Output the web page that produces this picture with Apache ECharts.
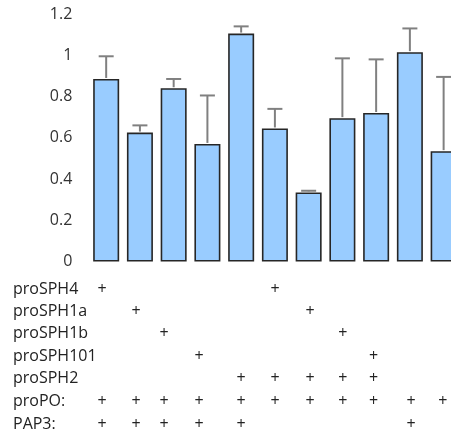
<!DOCTYPE html>
<html>
<head>
<meta charset="utf-8">
<script src="https://cdn.jsdelivr.net/npm/echarts@6/dist/echarts.min.js"></script>
<style>
html,body{margin:0;padding:0;background:#fff;}
#c{width:451px;height:433px;}
</style>
</head>
<body>
<div id="c"></div>
<script>
// ---- data ----
const categories = ['1','2','3','4','5','6','7','8','9','10','11'];
const means  = [0.885, 0.625, 0.84, 0.57, 1.105, 0.645, 0.335, 0.695, 0.72, 1.015, 0.535];
const errors = [0.11, 0.035, 0.045, 0.235, 0.035, 0.095, 0.008, 0.29, 0.26, 0.115, 0.36];
const yTicks = [0, 0.2, 0.4, 0.6, 0.8, 1, 1.2];
const rowLabels = ['proSPH4', 'proSPH1a', 'proSPH1b', 'proSPH101', 'proSPH2', 'proPO:', 'PAP3:'];
// columns (0-based bar index) marked with "+" in each row
const rowMarks = [
  [0, 5],
  [1, 6],
  [2, 7],
  [3, 8],
  [4, 5, 6, 7, 8],
  [0, 1, 2, 3, 4, 5, 6, 7, 8, 9, 10],
  [0, 1, 2, 3, 4, 9]
];

// ---- layout ----
const FONT = '"Open Sans", sans-serif';
const FS = 16;
const colX = [102, 136, 164, 199, 241, 275, 310, 342.7, 373.5, 411, 442.7];
const rowY = [289, 311.7, 333.3, 356.7, 378.3, 401, 424];

const chart = echarts.init(document.getElementById('c'), null, {renderer: 'canvas'});

const graphics = [];
rowLabels.forEach((lab, r) => {
  graphics.push({
    type: 'text', x: 13, y: rowY[r],
    style: {text: lab, font: FS + 'px ' + FONT, fill: '#222', align: 'left', verticalAlign: 'middle'}
  });
  rowMarks[r].forEach(c => {
    graphics.push({
      type: 'text', x: colX[c], y: rowY[r],
      style: {text: '+', font: FS + 'px ' + FONT, fill: '#222', align: 'center', verticalAlign: 'middle'}
    });
  });
});

chart.setOption({
  animation: false,
  grid: {left: 89.3, right: -9.5, top: 14, bottom: 171.5, outerBoundsMode: 'none'},
  xAxis: {
    type: 'category', data: categories,
    axisLine: {show: false}, axisTick: {show: false}, axisLabel: {show: false}, splitLine: {show: false}
  },
  yAxis: {
    type: 'value', min: yTicks[0], max: yTicks[yTicks.length - 1], interval: 0.2,
    axisLine: {show: false}, axisTick: {show: false}, splitLine: {show: false},
    axisLabel: {margin: 17, fontFamily: FONT, fontSize: FS, color: '#333'}
  },
  series: [
    {
      type: 'bar', data: means, barWidth: 26,
      itemStyle: {color: '#99CCFF', borderColor: '#262626', borderWidth: 1.6}
    },
    {
      type: 'custom',
      data: means.map((m, i) => [i, m, m + errors[i]]),
      renderItem: function (params, api) {
        const i = api.value(0);
        const p0 = api.coord([i, api.value(1)]);
        const p1 = api.coord([i, api.value(2)]);
        const hw = 7.5;
        const st = {stroke: '#808080', lineWidth: 2};
        return {
          type: 'group',
          children: [
            {type: 'line', shape: {x1: p0[0], y1: p0[1] - 1, x2: p1[0], y2: p1[1]}, style: st},
            {type: 'line', shape: {x1: p1[0] - hw, y1: p1[1], x2: p1[0] + hw, y2: p1[1]}, style: st}
          ]
        };
      },
      z: 3
    }
  ],
  graphic: graphics
});
</script>
</body>
</html>
